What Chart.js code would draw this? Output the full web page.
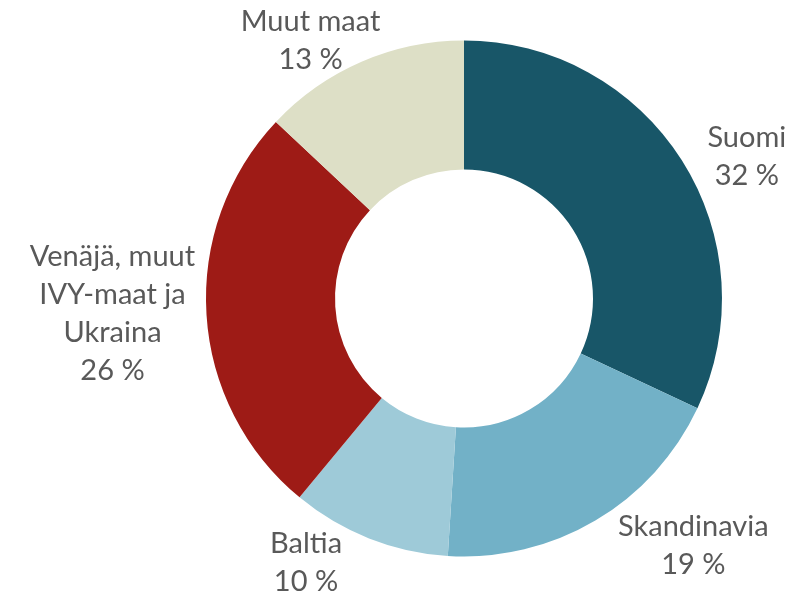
<!DOCTYPE html>
<html>
<head>
<meta charset="utf-8">
<script src="https://cdn.jsdelivr.net/npm/chart.js@4"></script>
<style>
  html, body { margin: 0; padding: 0; background: #fff; }
  #wrap { width: 801px; height: 596px; }
</style>
</head>
<body>
<div id="wrap"><canvas id="shareChart"></canvas></div>
<script>
const labels = [['Suomi'], ['Skandinavia'], ['Baltia'], ['Venäjä, muut', 'IVY-maat ja', 'Ukraina'], ['Muut maat']];
const shares = [32, 19, 10, 26, 13];
const colors = ['#185668', '#72B1C7', '#9ECAD8', '#9E1B16', '#DDDFC6'];
// label nudge from the slice's outer mid point
const labelOffsets = [[65, -4], [98, 25], [-63, 24], [-94, -1], [-51, -21]];

const outsideLabels = {
  id: 'outsideLabels',
  afterDatasetsDraw(chart) {
    const ctx = chart.ctx;
    const meta = chart.getDatasetMeta(0);
    ctx.save();
    ctx.font = '29px Lato';
    ctx.fillStyle = '#595959';
    ctx.textAlign = 'center';
    ctx.textBaseline = 'middle';
    meta.data.forEach((arc, i) => {
      const mid = (arc.startAngle + arc.endAngle) / 2;
      const x = arc.x + Math.cos(mid) * arc.outerRadius + labelOffsets[i][0];
      const y = arc.y + Math.sin(mid) * arc.outerRadius + labelOffsets[i][1];
      const lines = labels[i].concat([shares[i] + ' %']);
      const lh = 38;
      const top = y - (lines.length - 1) * lh / 2;
      lines.forEach((t, j) => ctx.fillText(t, x, top + j * lh));
    });
    ctx.restore();
  }
};

new Chart(document.getElementById('shareChart'), {
  type: 'doughnut',
  data: {
    labels: labels.map(l => l.join(' ')),
    datasets: [{
      data: shares,
      backgroundColor: colors,
      borderWidth: 0
    }]
  },
  options: {
    responsive: true,
    maintainAspectRatio: false,
    animation: false,
    cutout: '50%',
    layout: { padding: { left: 206, right: 79, top: 40, bottom: 39 } },
    plugins: {
      legend: { display: false },
      tooltip: { enabled: false }
    }
  },
  plugins: [outsideLabels]
});
</script>
</body>
</html>
